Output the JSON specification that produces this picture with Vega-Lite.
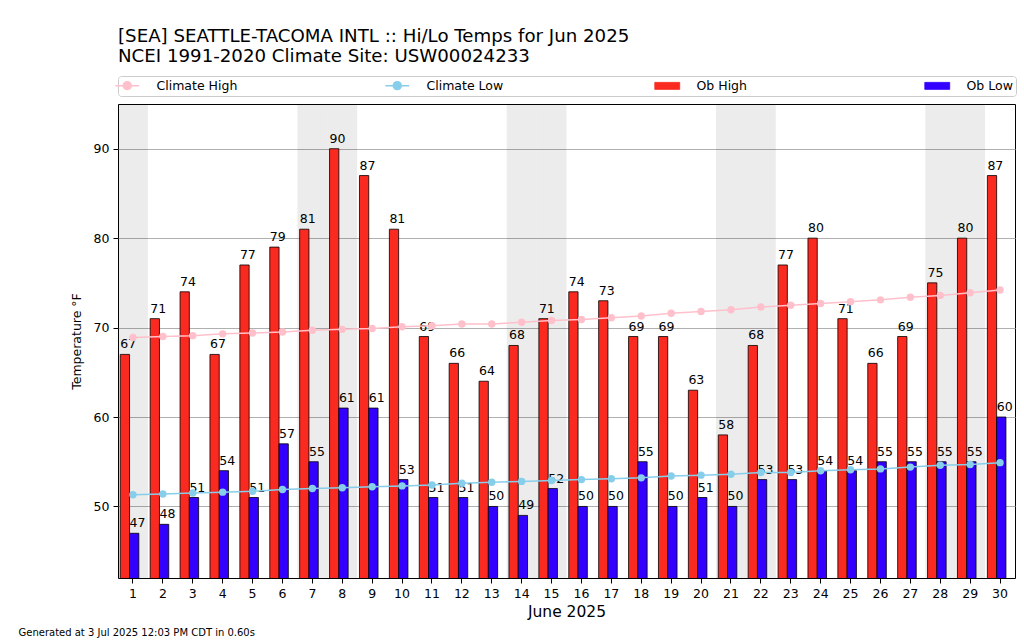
{
  "$schema": "https://vega.github.io/schema/vega-lite/v6.json",
  "width": 897,
  "height": 474,
  "autosize": {"type": "none"},
  "padding": {"left": 118, "top": 104, "right": 9, "bottom": 65},
  "background": "white",
  "config": {
    "font": "DejaVu Sans",
    "view": {"stroke": "black", "strokeWidth": 1},
    "axis": {
      "labelFont": "DejaVu Sans",
      "labelFontSize": 12.5,
      "labelColor": "black",
      "titleFont": "DejaVu Sans",
      "titleColor": "black",
      "titleFontWeight": "normal",
      "titleFontSize": 12.5,
      "tickColor": "black",
      "tickSize": 5,
      "domain": false
    },
    "legend": {
      "orient": "none",
      "legendX": 0,
      "legendY": -28,
      "direction": "horizontal",
      "columns": 4,
      "gridAlign": "all",
      "columnPadding": 144,
      "fillColor": "white",
      "strokeColor": "#cccccc",
      "cornerRadius": 3,
      "padding": 3,
      "labelFont": "DejaVu Sans",
      "labelFontSize": 12.5,
      "labelColor": "black",
      "labelOffset": 23,
      "symbolSize": 196,
      "symbolOpacity": 1,
      "symbolType": {"expr": "datum.value == 'Ob High' || datum.value == 'Ob Low' ? 'M-1.78,-0.5H1.78V0.5H-1.78Z' : 'M-1.7,0H1.7M-0.57,0A0.57,0.57 0 1,1 0.57,0A0.57,0.57 0 1,1 -0.57,0Z'"},
      "symbolFillColor": {"expr": "scale('color', datum.value)"},
      "symbolStrokeColor": {"expr": "datum.value == 'Ob High' || datum.value == 'Ob Low' ? 'black' : scale('color', datum.value)"},
      "symbolStrokeWidth": {"expr": "datum.value == 'Ob High' || datum.value == 'Ob Low' ? 0.8 : 1.5"}
    }
  },
  "title": {
    "text": ["[SEA] SEATTLE-TACOMA INTL :: Hi/Lo Temps for Jun 2025", "NCEI 1991-2020 Climate Site: USW00024233"],
    "anchor": "start",
    "frame": "group",
    "font": "DejaVu Sans",
    "fontSize": 18.2,
    "fontWeight": "normal",
    "color": "black",
    "lineHeight": 20,
    "offset": 9
  },
  "data": {
    "values": [
      {"day": 1, "weekday": "Sun", "Ob High": 67, "Ob Low": 47, "Climate High": 68.9, "Climate Low": 51.3},
      {"day": 2, "weekday": "Mon", "Ob High": 71, "Ob Low": 48, "Climate High": 69.0, "Climate Low": 51.4},
      {"day": 3, "weekday": "Tue", "Ob High": 74, "Ob Low": 51, "Climate High": 69.1, "Climate Low": 51.5},
      {"day": 4, "weekday": "Wed", "Ob High": 67, "Ob Low": 54, "Climate High": 69.3, "Climate Low": 51.6},
      {"day": 5, "weekday": "Thu", "Ob High": 77, "Ob Low": 51, "Climate High": 69.4, "Climate Low": 51.7},
      {"day": 6, "weekday": "Fri", "Ob High": 79, "Ob Low": 57, "Climate High": 69.5, "Climate Low": 51.9},
      {"day": 7, "weekday": "Sat", "Ob High": 81, "Ob Low": 55, "Climate High": 69.7, "Climate Low": 52.0},
      {"day": 8, "weekday": "Sun", "Ob High": 90, "Ob Low": 61, "Climate High": 69.8, "Climate Low": 52.1},
      {"day": 9, "weekday": "Mon", "Ob High": 87, "Ob Low": 61, "Climate High": 69.9, "Climate Low": 52.2},
      {"day": 10, "weekday": "Tue", "Ob High": 81, "Ob Low": 53, "Climate High": 70.1, "Climate Low": 52.3},
      {"day": 11, "weekday": "Wed", "Ob High": 69, "Ob Low": 51, "Climate High": 70.2, "Climate Low": 52.4},
      {"day": 12, "weekday": "Thu", "Ob High": 66, "Ob Low": 51, "Climate High": 70.4, "Climate Low": 52.6},
      {"day": 13, "weekday": "Fri", "Ob High": 64, "Ob Low": 50, "Climate High": 70.4, "Climate Low": 52.7},
      {"day": 14, "weekday": "Sat", "Ob High": 68, "Ob Low": 49, "Climate High": 70.6, "Climate Low": 52.8},
      {"day": 15, "weekday": "Sun", "Ob High": 71, "Ob Low": 52, "Climate High": 70.8, "Climate Low": 52.9},
      {"day": 16, "weekday": "Mon", "Ob High": 74, "Ob Low": 50, "Climate High": 70.9, "Climate Low": 53.0},
      {"day": 17, "weekday": "Tue", "Ob High": 73, "Ob Low": 50, "Climate High": 71.1, "Climate Low": 53.1},
      {"day": 18, "weekday": "Wed", "Ob High": 69, "Ob Low": 55, "Climate High": 71.3, "Climate Low": 53.2},
      {"day": 19, "weekday": "Thu", "Ob High": 69, "Ob Low": 50, "Climate High": 71.6, "Climate Low": 53.4},
      {"day": 20, "weekday": "Fri", "Ob High": 63, "Ob Low": 51, "Climate High": 71.8, "Climate Low": 53.5},
      {"day": 21, "weekday": "Sat", "Ob High": 58, "Ob Low": 50, "Climate High": 72.0, "Climate Low": 53.6},
      {"day": 22, "weekday": "Sun", "Ob High": 68, "Ob Low": 53, "Climate High": 72.3, "Climate Low": 53.8},
      {"day": 23, "weekday": "Mon", "Ob High": 77, "Ob Low": 53, "Climate High": 72.5, "Climate Low": 53.8},
      {"day": 24, "weekday": "Tue", "Ob High": 80, "Ob Low": 54, "Climate High": 72.7, "Climate Low": 54.0},
      {"day": 25, "weekday": "Wed", "Ob High": 71, "Ob Low": 54, "Climate High": 72.9, "Climate Low": 54.1},
      {"day": 26, "weekday": "Thu", "Ob High": 66, "Ob Low": 55, "Climate High": 73.1, "Climate Low": 54.2},
      {"day": 27, "weekday": "Fri", "Ob High": 69, "Ob Low": 55, "Climate High": 73.4, "Climate Low": 54.4},
      {"day": 28, "weekday": "Sat", "Ob High": 75, "Ob Low": 55, "Climate High": 73.6, "Climate Low": 54.6},
      {"day": 29, "weekday": "Sun", "Ob High": 80, "Ob Low": 55, "Climate High": 73.9, "Climate Low": 54.7},
      {"day": 30, "weekday": "Mon", "Ob High": 87, "Ob Low": 60, "Climate High": 74.2, "Climate Low": 54.9}
    ]
  },
  "layer": [
    {
      "transform": [{"filter": "datum.weekday == 'Sat' || datum.weekday == 'Sun'"}],
      "mark": {"type": "rect", "color": "black", "opacity": 0.075},
      "encoding": {
        "x": {"field": "day", "type": "ordinal", "scale": {"paddingInner": 0, "paddingOuter": 0}, "axis": null}
      }
    },
    {
      "transform": [{"fold": ["Ob High", "Ob Low"], "as": ["series", "temp"]}],
      "layer": [
        {
          "mark": {"type": "bar", "stroke": "black", "strokeWidth": 0.8, "clip": true},
          "encoding": {
            "x": {"field": "day", "type": "ordinal", "scale": {"paddingInner": 0, "paddingOuter": 0}, "axis": null},
            "xOffset": {
              "field": "series",
              "scale": {"domain": ["Ob High", "Ob Low"], "paddingInner": 0, "paddingOuter": 0.61, "align": 0.2}
            },
            "y": {
              "field": "temp", "type": "quantitative", "title": "Temperature °F",
              "scale": {"domain": [42, 95], "nice": false, "zero": false},
              "axis": {"values": [50, 60, 70, 80, 90], "grid": true, "gridColor": "#b0b0b0", "gridWidth": 1, "labelPadding": 4, "titlePadding": 10}
            },
            "color": {
              "field": "series",
              "title": null,
              "scale": {
                "domain": ["Climate High", "Climate Low", "Ob High", "Ob Low"],
                "range": ["#ffc0cb", "#87ceeb", "#fa2a20", "#3300ff"]
              }
            }
          }
        },
        {
          "mark": {"type": "text", "align": "left", "baseline": "alphabetic", "dx": -4.6, "dy": -6, "fontSize": 12.5, "color": "black"},
          "encoding": {
            "x": {"field": "day", "type": "ordinal", "scale": {"paddingInner": 0, "paddingOuter": 0}, "axis": null},
            "xOffset": {"field": "series"},
            "y": {"field": "temp", "type": "quantitative", "title": "Temperature °F", "scale": {"domain": [42, 95], "nice": false, "zero": false}},
            "text": {"field": "temp", "type": "quantitative"}
          }
        }
      ]
    },
    {
      "mark": {"type": "line", "strokeWidth": 1.5, "point": {"filled": true, "size": 55, "opacity": 1}},
      "encoding": {
        "x": {
          "field": "day", "type": "ordinal", "scale": {"paddingInner": 0, "paddingOuter": 0},
          "axis": {"orient": "bottom", "labelAngle": 0, "title": "June 2025", "titleFontSize": 15.5, "labelPadding": 4, "titlePadding": 5, "grid": false}
        },
        "y": {"field": "Climate High", "type": "quantitative", "title": "Temperature °F", "scale": {"domain": [42, 95], "nice": false, "zero": false}},
        "color": {"datum": "Climate High", "title": null}
      }
    },
    {
      "mark": {"type": "line", "strokeWidth": 1.5, "point": {"filled": true, "size": 55, "opacity": 1}},
      "encoding": {
        "x": {
          "field": "day", "type": "ordinal", "scale": {"paddingInner": 0, "paddingOuter": 0},
          "axis": {"orient": "bottom", "labels": false, "ticks": false, "grid": false, "title": "Generated at 3 Jul 2025 12:03 PM CDT in 0.60s", "titleFontSize": 10, "titleAnchor": "start", "titleAlign": "left", "titleBaseline": "alphabetic", "titleX": -100, "titleY": 57}
        },
        "y": {"field": "Climate Low", "type": "quantitative", "title": "Temperature °F", "scale": {"domain": [42, 95], "nice": false, "zero": false}},
        "color": {"datum": "Climate Low", "title": null}
      }
    }
  ],
  "resolve": {"axis": {"x": "independent"}}
}
